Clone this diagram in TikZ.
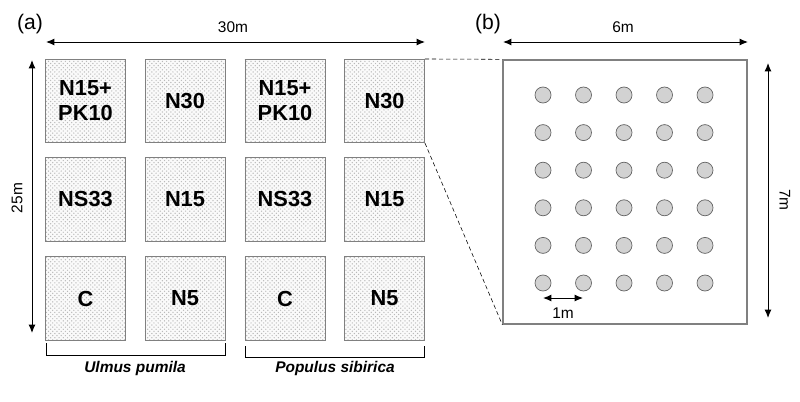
\documentclass[tikz,border=0pt]{standalone}
\usepackage{fontspec}
\setmainfont{Liberation Sans}
\usetikzlibrary{arrows,arrows.meta,patterns}

\tikzset{
  plotbox/.style={draw=gray, line width=0.6pt, preaction={fill=gray!4},
    pattern=crosshatch dots, pattern color=gray!55,
    minimum width=2cm, minimum height=2.08cm, inner sep=0pt, align=center,
    font=\fontsize{15.5}{17.8}\selectfont\bfseries},
  tree/.style={circle, draw=gray!80!black, fill=gray!35, line width=0.5pt,
    minimum size=0.4cm, inner sep=0pt},
  dim/.style={{Latex[length=6pt,width=5pt]}-{Latex[length=6pt,width=5pt]}, line width=0.7pt},
  dimlabel/.style={font=\fontsize{11}{13}\selectfont},
  panel/.style={font=\fontsize{15}{17}\selectfont},
  species/.style={font=\fontsize{11}{13}\selectfont\bfseries\itshape}
}

\begin{document}
\begin{tikzpicture}[x=0.025cm, y=-0.025cm]
\useasboundingbox (0,0) rectangle (800,401);
% делянки
\node [plotbox] (a11) at (85.5,101) {N15+\\PK10};
\node [plotbox] (a12) at (185,101) {N30};
\node [plotbox] (a13) at (285,101) {N15+\\PK10};
\node [plotbox] (a14) at (384.5,101) {N30};
\node [plotbox] (a21) at (85.5,199.5) {NS33};
\node [plotbox] (a22) at (185,199.5) {N15};
\node [plotbox] (a23) at (285,199.5) {NS33};
\node [plotbox] (a24) at (384.5,199.5) {N15};
\node [plotbox] (a31) at (85.5,298.5) {C};
\node [plotbox] (a32) at (185,298.5) {N5};
\node [plotbox] (a33) at (285,298.5) {C};
\node [plotbox] (a34) at (384.5,298.5) {N5};
% размеры (a)
\coordinate (w1) at (46,42);
\coordinate (w2) at (425,42);
\coordinate (h1) at (32,60);
\coordinate (h2) at (32,333);
\draw [dim] (w1) -- (w2);
\draw [dim] (h1) -- (h2);
% скобки
\coordinate (u1) at (46,343);
\coordinate (u2) at (225,343);
\coordinate (p1) at (245,346);
\coordinate (p2) at (424,346);
\draw [line width=0.7pt] (u1) -- ++(0,12) -| (u2);
\draw [line width=0.7pt] (p1) -- ++(0,11) -| (p2);
% участок (b)
\node [draw=gray, line width=0.9pt, minimum width=6.1cm, minimum height=6.6cm] (b) at (625,192) {};
\draw [densely dashed, line width=0.4pt] (a14.north east) -- (b.north west);
\draw [densely dashed, line width=0.4pt] (a14.south east) -- (b.south west);
\foreach \i in {0,...,4}
  \foreach \j in {0,...,5}
    \node [tree] (t\i\j) at ({543+40.5*\i},{95+37.6*\j}) {};
% размеры (b)
\coordinate (v1) at (503,42);
\coordinate (v2) at (748,42);
\coordinate (k1) at (768,63);
\coordinate (k2) at (768,318);
\coordinate (m1) at (543,298);
\coordinate (m2) at (583,298);
\draw [dim] (v1) -- (v2);
\draw [dim] (k1) -- (k2);
\draw [dim] (m1) -- (m2);
% подписи
\node [panel] (la) at (30,24) {(a)};
\node [panel] (lb) at (488,24) {(b)};
\node [dimlabel] (l30) at (233,27) {30m};
\node [dimlabel, rotate=90] (l25) at (17,198) {25m};
\node [dimlabel] (l6) at (623,27) {6m};
\node [dimlabel, rotate=-90] (l7) at (785,200) {7m};
\node [dimlabel] (l1) at (563,313) {1m};
\node [species] (su) at (135,368) {Ulmus pumila};
\node [species] (sp) at (335,368) {Populus sibirica};
\end{tikzpicture}
\end{document}
